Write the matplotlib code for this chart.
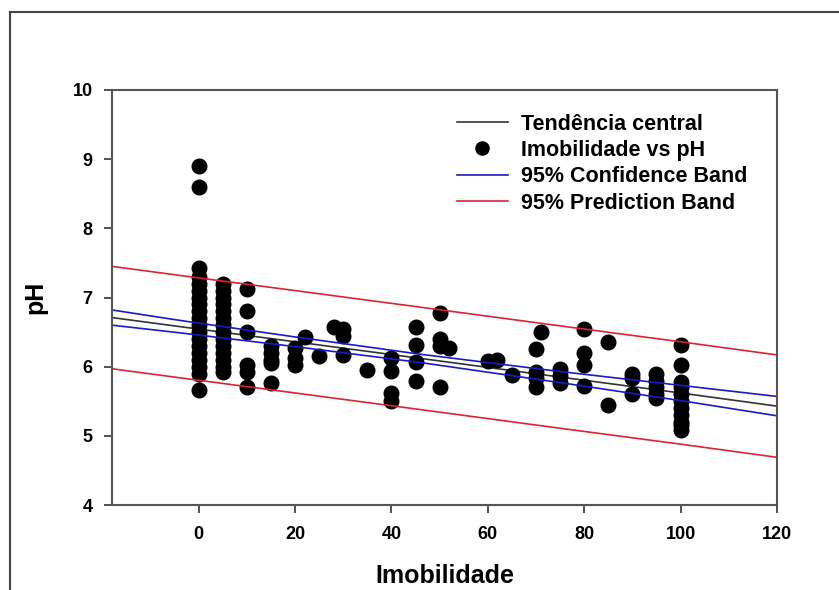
import numpy as np
import matplotlib
matplotlib.use("Agg")
import matplotlib.pyplot as plt
from matplotlib.lines import Line2D

plt.rcParams['font.family'] = ['Liberation Sans', 'DejaVu Sans']
plt.rcParams['font.weight'] = 'bold'

# scatter data (Imobilidade, pH), read by column
imob = ([0] * 19 + [5] * 14 + [10] * 6 + [15] * 5 + [20] * 3 + [22, 25, 28]
        + [30] * 3 + [35] + [40] * 4 + [45] * 4 + [50] * 4 + [52, 60, 62, 65]
        + [70] * 4 + [71] + [75] * 3 + [80] * 4 + [85] * 2 + [90] * 3
        + [95] * 5 + [100] * 11)
ph = ([8.9, 8.6, 7.42, 7.3, 7.2, 7.1, 7.0, 6.9, 6.8, 6.7, 6.6, 6.5, 6.4, 6.3, 6.2, 6.1, 6.0, 5.9, 5.66]
      + [7.2, 7.1, 7.0, 6.9, 6.8, 6.7, 6.6, 6.5, 6.4, 6.3, 6.2, 6.1, 6.0, 5.93]
      + [7.13, 6.8, 6.5, 6.02, 5.93, 5.7]
      + [6.3, 6.2, 6.1, 6.05, 5.77]
      + [6.27, 6.13, 6.03]
      + [6.43, 6.16, 6.58]
      + [6.54, 6.45, 6.17]
      + [5.95]
      + [6.12, 5.94, 5.62, 5.5]
      + [6.57, 6.32, 6.07, 5.8]
      + [6.78, 6.4, 6.3, 5.7]
      + [6.27, 6.08, 6.09, 5.88]
      + [6.26, 5.93, 5.84, 5.71]
      + [6.5]
      + [5.96, 5.86, 5.77]
      + [6.55, 6.2, 6.02, 5.72]
      + [6.35, 5.45]
      + [5.9, 5.83, 5.6]
      + [5.9, 5.8, 5.7, 5.6, 5.55]
      + [6.32, 6.03, 5.78, 5.7, 5.6, 5.5, 5.4, 5.3, 5.2, 5.15, 5.08])

# regression line and bands
band_x = [-18, -4, 20, 46, 75, 100, 120]
fit = [6.71, 6.58, 6.36, 6.12, 5.85, 5.62, 5.43]
conf_upper = [6.82, 6.67, 6.43, 6.18, 5.93, 5.73, 5.57]
conf_lower = [6.60, 6.49, 6.29, 6.06, 5.77, 5.51, 5.29]
pred_upper = [7.45, 7.32, 7.10, 6.86, 6.59, 6.36, 6.17]
pred_lower = [5.97, 5.84, 5.62, 5.38, 5.11, 4.88, 4.69]

fig = plt.figure(figsize=(8.39, 5.90), dpi=100)
ax = fig.add_axes([0.1335, 0.144, 0.7925, 0.7035])

ax.plot(band_x, fit, color='#333333', lw=1.2, label='Tendência central')
ax.plot(imob, ph, 'o', color='black', markersize=10.5, ls='none',
        label='Imobilidade vs pH')
ax.plot(band_x, conf_upper, color='#1a1acc', lw=1.2, label='95% Confidence Band')
ax.plot(band_x, conf_lower, color='#1a1acc', lw=1.2)
ax.plot(band_x, pred_upper, color='#dd2233', lw=1.2, label='95% Prediction Band')
ax.plot(band_x, pred_lower, color='#dd2233', lw=1.2)

ax.set_xlim(-18, 120)
ax.set_ylim(4, 10)
ax.set_xticks([0, 20, 40, 60, 80, 100, 120])
ax.set_yticks([4, 5, 6, 7, 8, 9, 10])
ax.tick_params(direction='out', length=6, width=1.2, labelsize=13, color='#333333')
ax.tick_params(axis='x', pad=9)
ax.tick_params(axis='y', pad=8)
for s in ax.spines.values():
    s.set_linewidth(1.5)
    s.set_color('#555555')

ax.set_xlabel('Imobilidade', fontsize=18, fontweight='bold', labelpad=15)
ax.set_ylabel('pH', fontsize=18, fontweight='bold', labelpad=18)

ax.legend(loc='upper right', bbox_to_anchor=(0.985, 0.99), frameon=False,
          fontsize=15.5, handlelength=2.4, handletextpad=0.6, labelspacing=0.25,
          markerscale=0.9)

# outer frame lines (left and top)
fig.add_artist(Line2D([10 / 839, 10 / 839], [0, 1 - 12 / 590], color='#444444', lw=1.5,
                      transform=fig.transFigure))
fig.add_artist(Line2D([10 / 839, 1], [1 - 12 / 590, 1 - 12 / 590], color='#444444', lw=1.5,
                      transform=fig.transFigure))

fig.savefig('out.png', dpi=100)
